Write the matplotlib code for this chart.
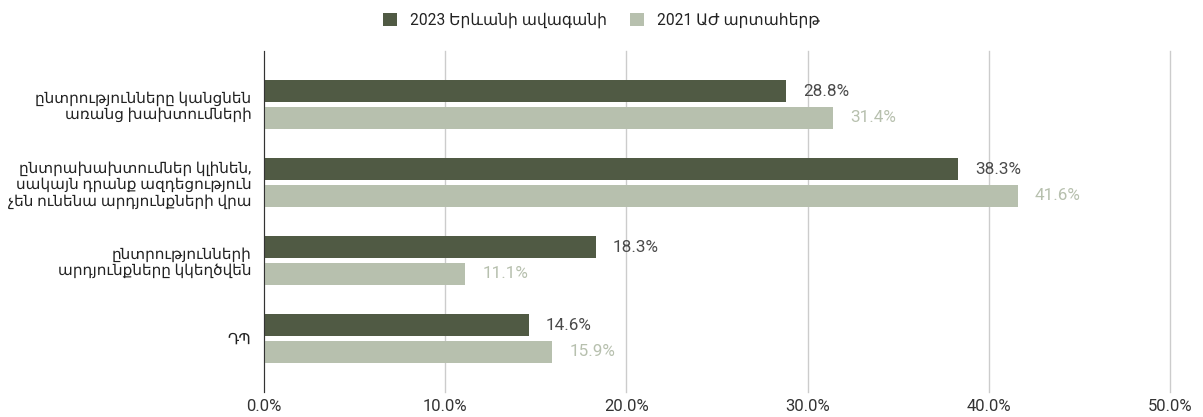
import matplotlib.pyplot as plt
from matplotlib.ticker import PercentFormatter

plt.rcParams['font.family'] = ['Roboto', 'DejaVu Sans']

categories = [
    "ընտրությունները կանցնեն\nառանց խախտումների",
    "ընտրախախտումներ կլինեն,\nսակայն դրանք ազդեցություն\nչեն ունենա արդյունքների վրա",
    "ընտրությունների\nարդյունքները կկեղծվեն",
    "ԴՊ",
]
yerevan_2023 = [28.8, 38.3, 18.3, 14.6]
az_2021 = [31.4, 41.6, 11.1, 15.9]
series_names = ["2023 Երևանի ավագանի", "2021 ԱԺ արտահերթ"]

dark = "#505a44"
light = "#b7c0ae"

fig = plt.figure(figsize=(12.03, 4.17), dpi=100)
ax = fig.add_axes([264 / 1203, 25 / 417, (1170 - 264) / 1203, (392 - 51) / 417])

pos = list(range(len(categories)))
h = 0.282
off = 0.167
b1 = ax.barh([p - off for p in pos], yerevan_2023, height=h, color=dark, label=series_names[0])
b2 = ax.barh([p + off for p in pos], az_2021, height=h, color=light, label=series_names[1])

for bar, v in zip(b1, yerevan_2023):
    ax.text(v + 0.95, bar.get_y() + bar.get_height() / 2, f"{v:.1f}%", va="center", ha="left",
            fontsize=12.3, color="#4a4a4a")
for bar, v in zip(b2, az_2021):
    ax.text(v + 0.95, bar.get_y() + bar.get_height() / 2, f"{v:.1f}%", va="center", ha="left",
            fontsize=12.3, color=light)

ax.set_xlim(0, 50)
ax.set_ylim(3.686, -0.686)
ax.set_xticks([0, 10, 20, 30, 40, 50])
ax.xaxis.set_major_formatter(PercentFormatter(decimals=1))
ax.set_yticks(pos)
ax.set_yticklabels(categories, fontsize=11, color="#222222", linespacing=1.15)
ax.tick_params(axis="x", length=0, labelsize=12, labelcolor="#333333", pad=5)
ax.tick_params(axis="y", length=0, pad=9)
ax.grid(axis="x", color="#cccccc", linewidth=1)
for gl in ax.get_xgridlines():
    gl.set_clip_on(False)
ax.set_axisbelow(True)
for s in ["top", "right", "bottom"]:
    ax.spines[s].set_visible(False)
ax.spines["left"].set_color("#333333")

fig.legend(handles=[b1, b2], loc="center", bbox_to_anchor=(0.5, 1 - 20 / 417), ncol=2,
           frameon=False, fontsize=11.2, handlelength=0.9, handleheight=0.9, columnspacing=1.5,
           labelcolor="#222222")

fig.savefig("out.png", dpi=100)
